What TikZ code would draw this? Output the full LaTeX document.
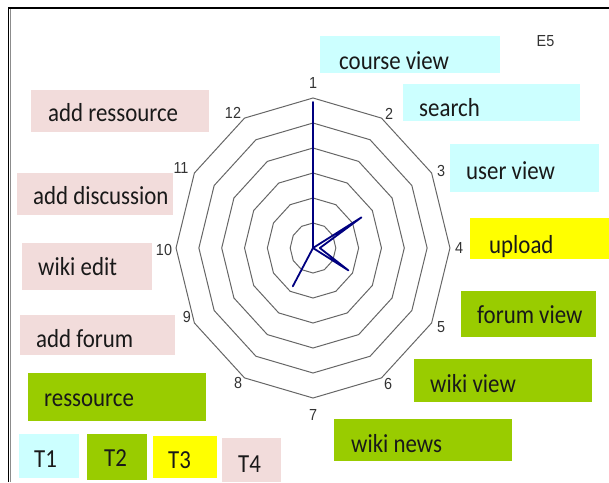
\documentclass[tikz,border=0pt]{standalone}
\usepackage{fontspec}
\newfontfamily\boxfont{Carlito}[FakeStretch=0.88]
\newfontfamily\numfont{Liberation Sans}[FakeStretch=0.9]
\definecolor{tcyan}{HTML}{CCFFFF}
\definecolor{tgreen}{HTML}{99CC00}
\definecolor{tyellow}{HTML}{FFFF00}
\definecolor{tpink}{HTML}{F2DCDB}
\definecolor{dataline}{HTML}{000080}
\tikzset{
  ring/.style={draw=black!60, line width=1pt},
  dataplot/.style={draw=dataline, line width=1.8pt, line join=round},
  numlbl/.style={font=\numfont\fontsize{16}{18}\selectfont, text=black!80, inner sep=0pt},
  boxtxt/.style={font=\boxfont\fontsize{26}{30}\selectfont, text=black!90, inner sep=0pt},
  tbox/.style={inner sep=0pt, outer sep=0pt, anchor=south west},
}

\begin{document}
\begin{tikzpicture}[x=1pt, y=1pt]
\useasboundingbox (0,0) rectangle (609,482);
\draw[line width=2.5pt] (8,474) -- (609,474);
\draw[line width=1.3pt] (8.6,0) -- (8.6,475);
\draw[black!45, line width=1.3pt] (10.4,0) -- (10.4,472.7);

\begin{scope}[shift={(313,234)}, xscale=0.913]
\foreach \r in {25,50,...,150}
  \draw[ring] (90:\r) foreach \k in {1,...,11} { -- ({90-30*\k}:\r) } -- cycle;
\draw[dataplot] (90:146) foreach \v [count=\k] in {0,2.45,0.3,1.79,0,0,1.77,0,0,0,0} { -- ({90-30*\k}:{25*\v}) } -- cycle;
\end{scope}

\begin{scope}[shift={(313,234)}]
\foreach \i/\dx/\dy in {1/0/165, 2/76/134, 3/128/77, 4/146/0, 5/128/-79, 6/75/-136,
    7/0/-167, 8/-75/-135, 9/-126/-69, 10/-149/-2, 11/-132/80, 12/-80/135}
  \node[numlbl] (n\i) at (\dx,\dy) {\i};
\end{scope}

\node[numlbl] (e5) at (545.5,441) {E5};

\foreach \nm/\bx/\by/\bw/\bh/\col/\tx/\ty/\txt in {
    courseview/320/409/180/37/tcyan/19/3/course view,
    search/403/361/177/37/tcyan/16/4/search,
    userview/450/290/149/48/tcyan/16/12/user view,
    upload/470/223/139/41/tyellow/19/6/upload,
    forumview/461/145/135/46/tgreen/16/14/forum view,
    wikiview/414/80/178/43/tgreen/16/10/wiki view,
    wikinews/334/21/178/42/tgreen/17/9/wiki news,
    ressource/28/61/178/48/tgreen/16/15/ressource,
    addressource/31/350/178/42/tpink/17/10/add ressource,
    adddiscussion/17/267/156/42/tpink/16/10/add discussion,
    wikiedit/22/192/130/47/tpink/16/15/wiki edit,
    addforum/20/127/155/40/tpink/16/8/add forum,
    tone/19/4/60/44/tcyan/15/11/T1,
    ttwo/87/2/60/46/tgreen/17/14/T2,
    tthree/153/4/64/42/tyellow/15/10/T3,
    tfour/222/0/59/44/tpink/16/10/T4}
  \node[tbox, fill=\col, minimum width=\bw pt, minimum height=\bh pt,
    label={[boxtxt, anchor=base west, xshift=\tx pt, yshift=\ty pt]south west:\txt}] (\nm) at (\bx,\by) {};
\end{tikzpicture}
\end{document}
